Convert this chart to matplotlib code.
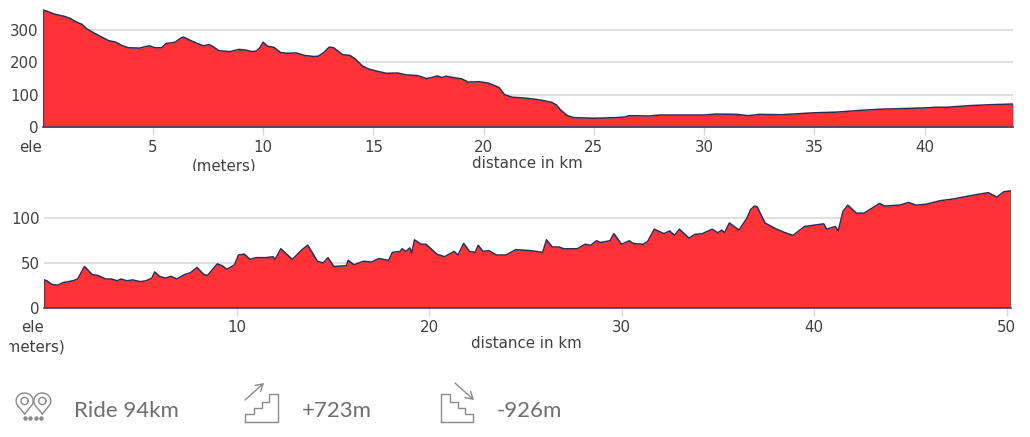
import numpy as np
import matplotlib
matplotlib.use("Agg")
import matplotlib.pyplot as plt
from matplotlib.transforms import Bbox

# first profile (km, metres)
dist_a = [0, 0.2, 0.5, 0.8, 1.0, 1.25, 1.5, 1.8, 2.0, 2.3, 2.6, 3.0, 3.3, 3.6, 3.9, 4.4, 4.7, 4.85, 5.1, 5.4,
          5.6, 6.0, 6.3, 6.4, 6.7, 7.0, 7.3, 7.55, 7.7, 8.0, 8.5, 8.9, 9.2, 9.5, 9.7, 9.85, 10.0, 10.2, 10.5, 10.8,
          11.1, 11.5, 11.9, 12.3, 12.5, 12.75, 13.0, 13.2, 13.6, 13.95, 14.2, 14.5, 14.8, 15.2, 15.6, 16.1, 16.5,
          17.0, 17.4, 17.6, 17.9, 18.1, 18.3, 18.7, 19.0, 19.3, 19.8, 20.2, 20.5, 20.7, 20.95, 21.3, 21.8, 22.3, 22.7,
          23.1, 23.3, 23.5, 23.8, 24.1, 25.0, 26.0, 26.4, 26.6, 27.5, 28.0, 30.0, 30.5, 31.5, 32.0, 32.5, 33.5,
          35.0, 36.0, 37.0, 38.0, 40.0, 40.5, 41.0, 42.0, 43.0, 44.0]
ele_a = [362, 358, 350, 345, 342, 336, 326, 317, 304, 292, 281, 267, 263, 252, 245, 244, 249, 251, 245, 245,
         258, 262, 276, 278, 268, 259, 251, 255, 250, 236, 233, 240, 238, 233, 235, 245, 262, 250, 246, 230,
         228, 229, 221, 218, 219, 230, 247, 245, 224, 221, 209, 189, 179, 172, 166, 167, 161, 159, 150, 152, 158,
         153, 157, 152, 149, 139, 140, 136, 128, 122, 100, 92, 90, 86, 82, 76, 68, 52, 35, 29, 27, 29, 31, 35,
         34, 37, 37, 40, 39, 35, 39, 38, 44, 46, 51, 55, 59, 61, 61, 66, 69, 71]
ticks_a = [5, 10, 15, 20, 25, 30, 35, 40]
yticks_a = [0, 100, 200, 300]

# second profile
dist_b = [0, .15, .4, .7, 1, 1.5, 1.75, 2.1, 2.2, 2.5,
          2.8, 3.2, 3.5, 3.8, 4.0, 4.3, 4.6, 5.0, 5.3, 5.6,
          5.75, 6.0, 6.3, 6.6, 6.9, 7.3, 7.6, 7.95, 8.3, 8.5,
          8.8, 9.0, 9.25, 9.5, 9.9, 10.1, 10.4, 10.7, 11.0, 11.5,
          11.9, 12.0, 12.3, 12.9, 13.4, 13.7, 14.2, 14.5, 14.75, 15.05,
          15.7, 15.8, 16.1, 16.6, 17.0, 17.4, 17.9, 18.1, 18.5, 18.6,
          18.8, 19.0, 19.1, 19.24, 19.6, 19.85, 20.4, 20.8, 21.3, 21.5,
          21.8, 22.1, 22.4, 22.55, 22.8, 23.1, 23.5, 24.0, 24.5, 25.2,
          25.9, 26.1, 26.4, 26.75, 27.0, 27.7, 28.1, 28.4, 28.7, 28.9,
          29.4, 29.6, 30.0, 30.4, 30.6, 31.1, 31.35, 31.7, 32.2, 32.5,
          32.75, 33.0, 33.5, 33.8, 34.2, 34.7, 35.0, 35.2, 35.35, 35.6,
          36.1, 36.5, 36.7, 36.9, 37.05, 37.2, 37.45, 38.05, 38.5, 38.9, 39.5, 40.5,
          40.65, 41.1, 41.25, 41.5, 41.75, 42.2, 42.6, 43.4, 43.65, 44.45,
          44.9, 45.3, 45.8, 46.55, 47.25, 48.2, 49.05, 49.5, 49.85, 50.2]
ele_b = [31, 30, 26, 25, 28, 30, 32, 46, 44, 37,
         36, 32, 32, 30, 32, 30, 31, 29, 30, 33,
         40, 35, 33, 35, 32, 37, 39, 45, 37, 36,
         44, 49, 47, 43, 48, 59, 60, 54, 56, 56,
         57, 54, 66, 54, 65, 70, 52, 50, 56, 46,
         47, 53, 48, 52, 51, 55, 53, 62, 63, 66,
         63, 67, 61, 76, 71, 71, 60, 57, 63, 59,
         72, 63, 62, 70, 63, 64, 59, 59, 65, 64,
         62, 76, 68, 68, 66, 66, 71, 70, 75, 73,
         75, 83, 71, 75, 72, 71, 74, 88, 83, 86,
         81, 88, 78, 82, 83, 88, 84, 87, 84, 95,
         87, 100, 110, 114, 113, 106, 95, 88, 84, 81, 91, 94,
         88, 91, 86, 108, 115, 106, 106, 117, 114, 115,
         118, 115, 116, 120, 122, 126, 129, 124, 130, 131]
ticks_b = [10, 20, 30, 40, 50]
yticks_b = [0, 50, 100]

W, H = 1030, 437
fig = plt.figure(figsize=(W / 100, H / 100), dpi=100, facecolor="white")
plt.rcParams["font.family"] = "DejaVu Sans"
txt = "#404040"


def profile(left, right, top, bottom, dist, ele, xt, yt, xlim, ylim_top):
    ax = fig.add_axes([left / W, 1 - bottom / H, (right - left) / W, (bottom - top) / H])
    ax.set_xlim(*xlim)
    ax.set_ylim(0, ylim_top)
    for y in yt[1:]:
        ax.axhline(y, color="#dcdcdc", lw=1.3, zorder=1)
    ax.fill_between(dist, ele, 0, color="#ff3336", lw=0, zorder=2)
    ax.plot(dist, ele, color="#2b2b55", lw=1.1, zorder=3, solid_joinstyle="round")
    ax.plot([dist[0], dist[0]], [0, ele[0]], color="#4a3a60", lw=1, zorder=3)
    ax.plot([dist[-1], dist[-1]], [0, ele[-1]], color="#4a3a60", lw=1, zorder=3)
    ax.plot([dist[0], dist[-1]], [0, 0], color="#4a3a60", lw=1.2, zorder=3, clip_on=False)
    for s in ax.spines.values():
        s.set_visible(False)
    ax.patch.set_alpha(0)
    ax.set_xticks(xt)
    ax.set_yticks(yt)
    ax.tick_params(axis="x", length=6, width=1, color="#d8d8d8", labelsize=10.8, labelcolor=txt, pad=3)
    ax.tick_params(axis="y", length=0, labelsize=10.8, labelcolor=txt, pad=3)
    return ax


profile(42.5, 1013, 8, 127, dist_a, ele_a, ticks_a, yticks_a, (0, 44), 368)
profile(44, 1010.5, 182, 307.5, dist_b, ele_b, ticks_b, yticks_b, (0, 50.2), 141)

# overlay in pixel coordinates for the labels and the icons
ov = fig.add_axes([0, 0, 1, 1])
ov.set_xlim(0, W)
ov.set_ylim(H, 0)
ov.axis("off")


def cut_label(x, y, s, box):
    # the source picture crops these two labels
    t = ov.text(x, y, s, ha="center", va="center", fontsize=10.8, color=txt)
    t.set_clip_path(None)
    t.set_clip_box(Bbox(box))
    t.set_clip_on(True)


ov.text(31, 147, "ele", ha="center", va="center", fontsize=10.8, color=txt)
cut_label(224, 166, "(meters)", [[0, H - 171], [W, H]])
ov.text(527, 164, "distance in km", ha="center", va="center", fontsize=10.8, color=txt)
ov.text(32, 328, "ele", ha="center", va="center", fontsize=10.8, color=txt)
cut_label(33, 347, "(meters)", [[9, 0], [W, H]])
ov.text(526, 344, "distance in km", ha="center", va="center", fontsize=10.8, color=txt)

# bottom strip
icon = "#8a8a8a"
strip = "#6e6e6e"
for x, s in [(74, "Ride 94km"), (302, "+723m"), (497, "-926m")]:
    ov.text(x, 411, s, ha="left", va="center", fontsize=16, color=strip, family="Lato")

for cx in (24.6, 42.3):
    t = np.linspace(np.radians(-30), np.radians(210), 40)
    xs = cx + 8.5 * np.cos(t)
    ys = 401 - 8 * np.sin(t)
    ov.plot(np.r_[cx, xs, cx], np.r_[414, ys, 414], color=icon, lw=1)
    t = np.linspace(0, 2 * np.pi, 40)
    ov.plot(cx + 3.6 * np.cos(t), 401 + 3.6 * np.sin(t), color=icon, lw=1)
ov.plot([24.6, 30.2, 35.8, 41.4], [418, 418, 418, 418], ls="none", marker="o", ms=2.2, color=icon)

up_x = [245, 245, 254, 254, 262, 262, 269, 269, 278, 278, 245]
up_y = [421.5, 414, 414, 408, 408, 402, 402, 394, 394, 421.5, 421.5]
ov.plot(up_x, up_y, color=icon, lw=1)
ov.annotate("", xy=(264, 383), xytext=(245, 400),
            arrowprops=dict(arrowstyle="->,head_length=0.5,head_width=0.3", color=icon, lw=1, shrinkA=0, shrinkB=0))

down_x = [441, 441, 450, 450, 458, 458, 465, 465, 473, 473, 441]
down_y = [421.5, 394, 394, 402, 402, 408, 408, 414, 414, 421.5, 421.5]
ov.plot(down_x, down_y, color=icon, lw=1)
ov.annotate("", xy=(474, 400), xytext=(455, 383),
            arrowprops=dict(arrowstyle="->,head_length=0.5,head_width=0.3", color=icon, lw=1, shrinkA=0, shrinkB=0))

fig.savefig("out.png", dpi=100)
